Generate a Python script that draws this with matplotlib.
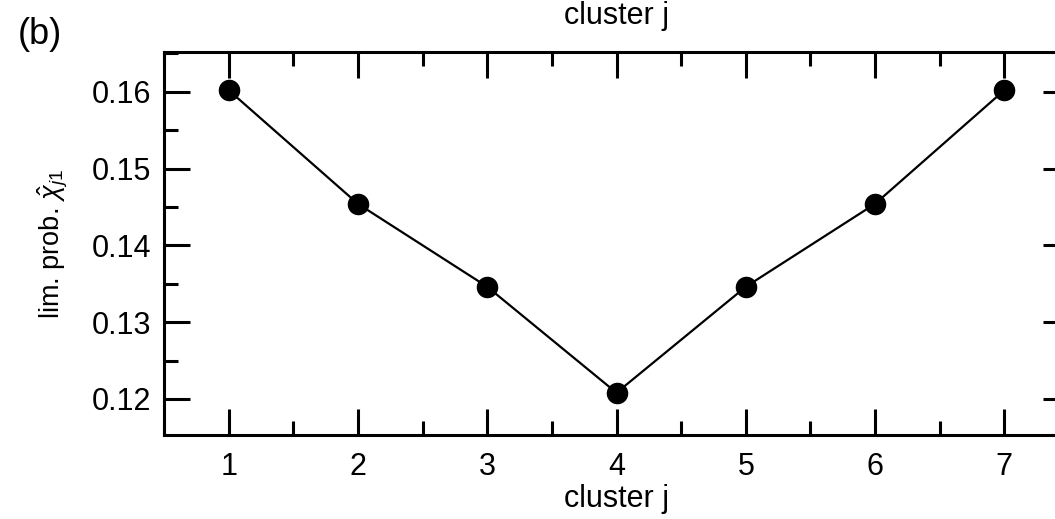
import matplotlib
matplotlib.use("Agg")
import matplotlib.pyplot as plt
from matplotlib.ticker import MultipleLocator

plt.rcParams['font.family'] = ['Liberation Sans', 'DejaVu Sans']
plt.rcParams['mathtext.fontset'] = 'custom'
plt.rcParams['mathtext.rm'] = 'Liberation Sans'
plt.rcParams['mathtext.it'] = 'Liberation Sans:italic'

# limiting probability per cluster
clusters = [1, 2, 3, 4, 5, 6, 7]
lim_prob = [0.1602, 0.1454, 0.1346, 0.1208, 0.1346, 0.1454, 0.1602]
x_ticks = [1, 2, 3, 4, 5, 6, 7]
y_ticks = [0.12, 0.13, 0.14, 0.15, 0.16]

W, H = 1055, 519
fig = plt.figure(figsize=(W / 100, H / 100), dpi=100)

left, right, top, bottom = 164, 1069, 52, 435
ax = fig.add_axes([left / W, 1 - bottom / H, (right - left) / W, (bottom - top) / H])

ax.plot(clusters, lim_prob, color='black', linewidth=1.6, marker='o',
        markersize=14.5, markerfacecolor='black', markeredgecolor='black')

ax.set_xlim(0.5, 7.5)
ax.set_ylim(0.1153, 0.16517)
ax.set_xticks(x_ticks)
ax.set_yticks(y_ticks)
ax.set_yticklabels([f"{v:.2f}" for v in y_ticks])
ax.xaxis.set_minor_locator(MultipleLocator(0.5))
ax.yaxis.set_minor_locator(MultipleLocator(0.005))

for s in ax.spines.values():
    s.set_linewidth(2.2)

ax.tick_params(which='both', direction='in', top=True, right=True,
               width=2.2, labelsize=22, colors='black')
ax.tick_params(which='major', length=19)
ax.tick_params(which='minor', length=9.8)
ax.tick_params(axis='y', which='major', pad=9)
ax.tick_params(axis='x', which='major', pad=12)

ax.set_xlabel('cluster j', fontsize=22, labelpad=2)
ax.set_ylabel(r'lim. prob. $\hat{\chi}_{j1}$', fontsize=19.5, labelpad=16)

fig.text(617 / W, 1 - 16 / H, 'cluster j', fontsize=22, ha='center', va='center')
fig.text(40 / W, 1 - 35 / H, '(b)', fontsize=26, ha='center', va='center')

fig.savefig('out.png', dpi=100)
